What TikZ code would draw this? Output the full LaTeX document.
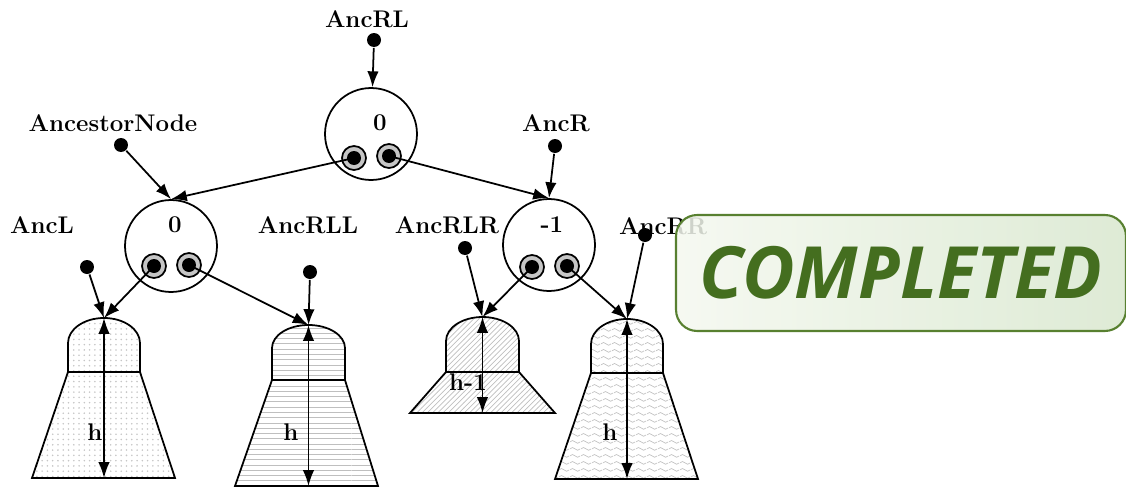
\documentclass[tikz,border=0pt]{standalone}
\usepackage{fontspec}
\newfontfamily\stampfont{Open Sans}
\usetikzlibrary{arrows.meta,patterns}
\definecolor{stampgreen}{RGB}{68,110,31}
\definecolor{stampedge}{RGB}{88,128,48}
\definecolor{stampleft}{RGB}{244,248,239}
\definecolor{stampright}{RGB}{216,231,206}
\pgfdeclarepatternformonly{softwave}{\pgfpointorigin}{\pgfqpoint{6pt}{4pt}}{\pgfqpoint{6pt}{4pt}}{%
  \pgfsetlinewidth{0.4pt}
  \pgfpathmoveto{\pgfqpoint{0pt}{2pt}}
  \pgfpathcurveto{\pgfqpoint{1pt}{3.2pt}}{\pgfqpoint{2pt}{3.2pt}}{\pgfqpoint{3pt}{2pt}}
  \pgfpathcurveto{\pgfqpoint{4pt}{0.8pt}}{\pgfqpoint{5pt}{0.8pt}}{\pgfqpoint{6pt}{2pt}}
  \pgfusepath{stroke}}
\begin{document}
\begin{tikzpicture}[x=0.02cm,y=0.02cm,line width=1pt,
  lbl/.style={font=\fontsize{13.7}{16}\selectfont\bfseries,inner sep=0pt},
  ball/.style={circle,draw=black,minimum size=1.84cm,inner sep=0pt},
  eye/.style={circle,draw=black,fill=gray!45,minimum size=0.48cm,inner sep=0pt},
  dot/.style={circle,fill=black,minimum size=0.28cm,inner sep=0pt},
  arr/.style={-{Latex[length=9pt,width=6.5pt]}},
  harr/.style={{Latex[length=9pt,width=6.5pt]}-{Latex[length=9pt,width=6.5pt]}}]
\useasboundingbox (0,0) rectangle (1126,-487);

\node[ball](root) at (371,-134) {};
\node[ball](lnode) at (171,-246) {};
\node[ball](rnode) at (549,-245) {};
\node[lbl](vroot) at (380,-123) {0};
\node[lbl](vl) at (175,-225) {0};
\node[lbl](vr) at (552,-225) {-1};

\node[eye](rootL) at (354,-158) {};
\node[eye](rootR) at (389,-156) {};
\node[eye](lnL) at (154,-266) {};
\node[eye](lnR) at (189,-265) {};
\node[eye](rnL) at (532,-267) {};
\node[eye](rnR) at (567,-266) {};

\node[lbl](aRL) at (367,-19) {AncRL};
\node[lbl](aAN) at (113,-123) {AncestorNode};
\node[lbl](aR) at (556,-123) {AncR};
\node[lbl](aL) at (42,-225) {AncL};
\node[lbl](aRLL) at (308,-225) {AncRLL};
\node[lbl](aRLR) at (447,-225) {AncRLR};
\node[lbl](aRR) at (663,-226) {AncRR};

\node[dot](dRL) at (374,-40) {};
\node[dot](dAN) at (121,-145) {};
\node[dot](dR) at (555,-146) {};
\node[dot](dL) at (87,-267) {};
\node[dot](dRLL) at (310,-272) {};
\node[dot](dRLR) at (465,-248) {};
\node[dot](dRR) at (645,-235) {};

% subtrees
\draw[pattern=dots,pattern color=gray!45] (68,-372) -- (68,-343) arc[start angle=180,end angle=0,x radius=36,y radius=25] -- (140,-372) -- cycle;
\draw[pattern=dots,pattern color=gray!45] (68,-372) -- (140,-372) -- (175,-478) -- (32,-478) -- cycle;
\draw[pattern=horizontal lines,pattern color=gray!50] (272,-380) -- (272,-348) arc[start angle=180,end angle=0,x radius=36.5,y radius=23] -- (345,-380) -- cycle;
\draw[pattern=horizontal lines,pattern color=gray!50] (272,-380) -- (345,-380) -- (378,-486) -- (235,-486) -- cycle;
\draw[pattern=north east lines,pattern color=gray!50] (446,-372) -- (446,-341) arc[start angle=180,end angle=0,x radius=36.5,y radius=24] -- (519,-372) -- cycle;
\draw[pattern=north east lines,pattern color=gray!50] (446,-372) -- (519,-372) -- (555,-413) -- (410,-413) -- cycle;
\draw[pattern=softwave,pattern color=gray!50] (591,-373) -- (591,-344) arc[start angle=180,end angle=0,x radius=36,y radius=25] -- (663,-373) -- cycle;
\draw[pattern=softwave,pattern color=gray!50] (591,-373) -- (663,-373) -- (698,-479) -- (555,-479) -- cycle;

\coordinate (ta) at (104,-318);
\coordinate (ba) at (104,-478);
\coordinate (tb) at (308.5,-325);
\coordinate (bb) at (308.5,-486);
\coordinate (tc) at (482.5,-317);
\coordinate (bc) at (482.5,-413);
\coordinate (td) at (627,-319);
\coordinate (bd) at (627,-479);

\draw[harr] (ta) -- (ba);
\draw[harr] (tb) -- (bb);
\draw[harr] (tc) -- (bc);
\draw[harr] (td) -- (bd);
\node[lbl](ha) at (95,-432) {h};
\node[lbl](hb) at (291,-432) {h};
\node[lbl](hc) at (468,-382) {h-1};
\node[lbl](hd) at (610,-432) {h};

\draw[arr] (dRL) -- (root);
\draw[arr] (dAN) -- (lnode.north);
\draw[arr] (dR) -- (rnode.north);
\draw[arr] (rootL.center) -- (lnode.north);
\draw[arr] (rootR.center) -- (rnode.north);
\draw[arr] (lnL.center) -- (ta);
\draw[arr] (lnR.center) -- (tb);
\draw[arr] (rnL.center) -- (tc);
\draw[arr] (rnR.center) -- (td);
\draw[arr] (dL) -- (ta);
\draw[arr] (dRLL) -- (tb);
\draw[arr] (dRLR) -- (tc);
\draw[arr] (dRR) -- (td);
\foreach \e in {rootL,rootR,lnL,lnR,rnL,rnR}
  \node[dot](\e d) at (\e) {};

% stamp
\node[draw=stampedge,line width=1.2pt,rounded corners=12pt,left color=stampleft,right color=stampright,
  fill opacity=0.85,text opacity=1,minimum width=9cm,minimum height=2.32cm,
  text=stampgreen,font=\stampfont\bfseries\itshape\fontsize{41}{41}\selectfont](stamp) at (901,-273) {COMPLETED};
\end{tikzpicture}
\end{document}
